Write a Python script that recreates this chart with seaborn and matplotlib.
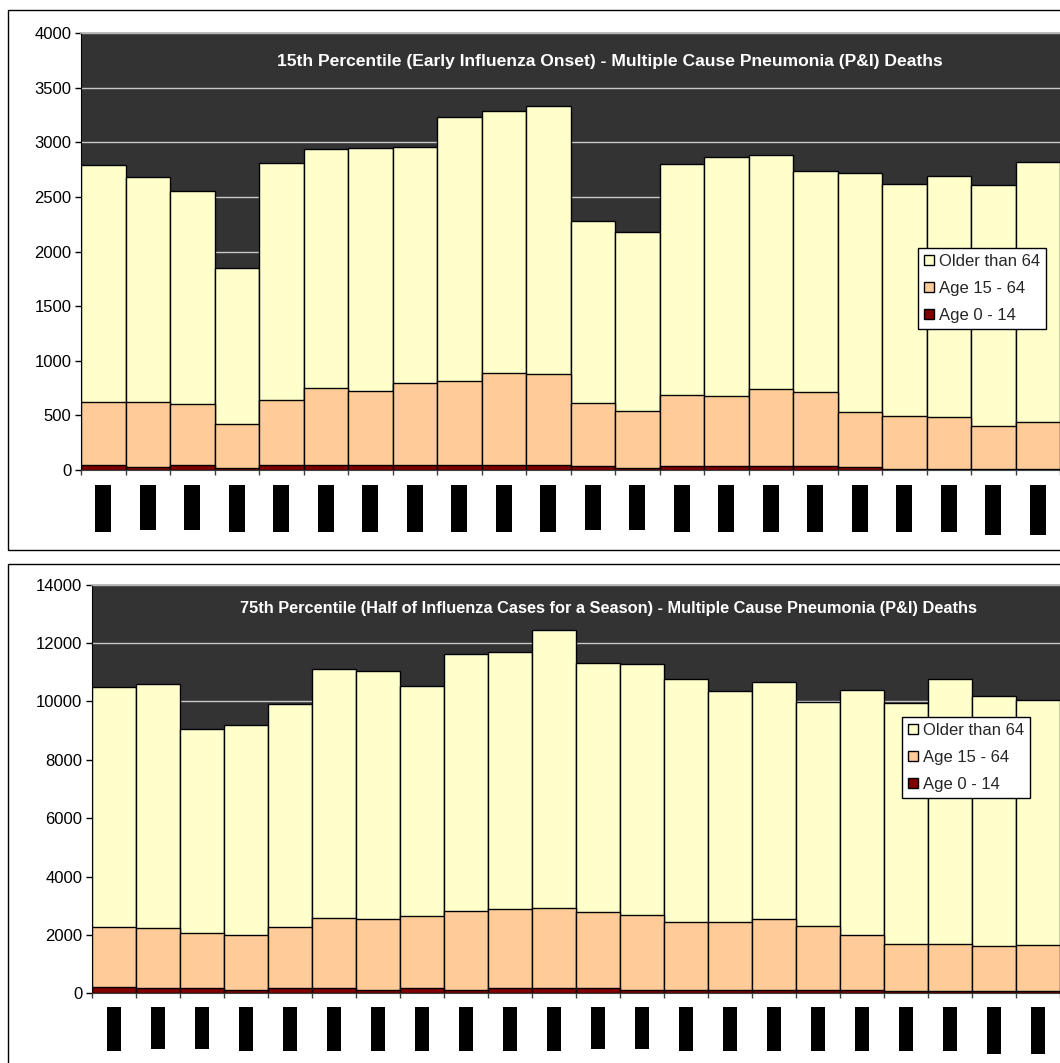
import numpy as np
import matplotlib
matplotlib.use("Agg")
import matplotlib.pyplot as plt
from matplotlib.patches import Rectangle
import seaborn as sns

# ---- data: deaths per season, stacked by age group ----
seasons = list(range(22))

early_age0_14 = [46, 30, 46, 18, 46, 46, 46, 46, 46, 46, 46, 34, 15, 34, 35, 37, 35, 25, 10, 10, 8, 8]
early_age15_64 = [580, 596, 559, 406, 595, 702, 677, 748, 772, 845, 833, 580, 528, 653, 643, 702, 677, 506, 485, 478, 395, 429]
early_over64 = [2164, 2054, 1955, 1426, 2169, 2192, 2222, 2161, 2415, 2397, 2455, 1667, 1635, 2116, 2186, 2146, 2030, 2186, 2128, 2205, 2211, 2387]

half_age0_14 = [205, 170, 170, 124, 170, 170, 124, 170, 124, 170, 170, 170, 124, 124, 124, 124, 124, 124, 80, 80, 80, 80]
half_age15_64 = [2078, 2068, 1908, 1874, 2113, 2400, 2412, 2480, 2708, 2709, 2743, 2616, 2571, 2319, 2319, 2412, 2193, 1874, 1610, 1610, 1541, 1575]
half_over64 = [8214, 8362, 6980, 7197, 7620, 8534, 8520, 7880, 8798, 8821, 9537, 8534, 8580, 8328, 7917, 8143, 7655, 8396, 8248, 9081, 8568, 8407]

group_labels = ["Older than 64", "Age 15 - 64", "Age 0 - 14"]
titles = [
    "15th Percentile (Early Influenza Onset) - Multiple Cause Pneumonia (P&I) Deaths",
    "75th Percentile (Half of Influenza Cases for a Season) - Multiple Cause Pneumonia (P&I) Deaths",
]
yticks_early = [0, 500, 1000, 1500, 2000, 2500, 3000, 3500, 4000]
yticks_half = [0, 2000, 4000, 6000, 8000, 10000, 12000, 14000]

# category label block lengths (relative: 0 short, 1 normal, 2 long)
label_kind = [1, 0, 0, 1, 1, 1, 1, 1, 1, 1, 1, 0, 0, 1, 1, 1, 1, 1, 1, 1, 2, 2]

# ---- style ----
sns.set_style("white")
plt.rcParams["font.family"] = ["Liberation Sans", "DejaVu Sans"]

C_OLD = "#FFFFCC"
C_MID = "#FFCC99"
C_YOUNG = "#800000"
C_BG = "#333333"

W, H = 1060, 1063
fig = plt.figure(figsize=(W / 100, H / 100), dpi=100)


def px_rect(left, top, right, bottom):
    return [left / W, 1 - bottom / H, (right - left) / W, (bottom - top) / H]


# chart-area frames
for top, bottom in [(10, 550), (563.5, 1080)]:
    fig.add_artist(Rectangle((8 / W, 1 - bottom / H), (1075 - 8) / W, (bottom - top) / H,
                             transform=fig.transFigure, fill=False,
                             edgecolor="black", linewidth=1.0))


def draw_panel(ax, young, mid, old, yticks, title, title_size, slot_px, title_xy,
               label_gap, label_lens, label_w, legend_xy):
    young = np.asarray(young)
    mid = np.asarray(mid)
    old = np.asarray(old)
    ax.set_facecolor(C_BG)
    layers = [(young + mid + old, C_OLD, group_labels[0]),
              (young + mid, C_MID, group_labels[1]),
              (young, C_YOUNG, group_labels[2])]
    for vals, col, lab in layers:
        sns.barplot(x=seasons, y=vals, color=col, saturation=1, width=1.0,
                    edgecolor="black", linewidth=1.0, ax=ax, label=lab,
                    errorbar=None)
    n = len(seasons)
    ax_left_px = ax.get_position().x0 * W
    ax.set_xlim(-0.5, -0.5 + (W - ax_left_px) / slot_px)
    ax.set_ylim(yticks[0], yticks[-1])
    ax.set_yticks(yticks)
    ax.set_yticklabels([str(t) for t in yticks], fontsize=12)
    ax.set_xticks(np.arange(n + 1) - 0.5)
    ax.set_xticklabels([])
    ax.set_xlabel("")
    ax.set_ylabel("")
    ax.tick_params(axis="y", direction="out", length=4, width=1, color="black",
                   left=True, pad=3, labelcolor="black")
    ax.tick_params(axis="x", direction="out", length=3.5, width=1, color="#404040",
                   bottom=True)
    ax.set_axisbelow(True)
    ax.yaxis.grid(True, color="#c8c8c8", linewidth=1.0)
    ax.xaxis.grid(False)
    ax.spines["right"].set_visible(False)
    ax.spines["top"].set_color("#b0b0b0")
    ax.spines["top"].set_linewidth(1.2)
    ax.spines["left"].set_color("black")
    ax.spines["bottom"].set_color("#404040")
    for s in ax.spines.values():
        s.set_zorder(5)

    # title inside the plot area
    fig.text(title_xy[0] / W, 1 - title_xy[1] / H, title, color="white",
             fontsize=title_size, fontweight="bold", ha="center", va="baseline")

    # category label blocks below the axis
    ax_h_px = ax.get_position().height * H
    w = label_w / slot_px
    for i, k in enumerate(label_kind):
        L = label_lens[k]
        ax.add_patch(Rectangle((i - w / 2, -(label_gap + L) / ax_h_px), w, L / ax_h_px,
                               transform=ax.get_xaxis_transform(), clip_on=False,
                               facecolor="black", edgecolor="none"))

    handles, labels = ax.get_legend_handles_labels()
    leg = ax.legend(handles, labels, loc="upper left",
                    bbox_to_anchor=(legend_xy[0] / W, 1 - legend_xy[1] / H),
                    bbox_transform=fig.transFigure, fontsize=12,
                    frameon=True, fancybox=False, framealpha=1,
                    edgecolor="black", facecolor="white",
                    handlelength=0.6, handleheight=0.6, handletextpad=0.3,
                    labelspacing=0.72, borderpad=0.35, borderaxespad=0)
    leg.get_frame().set_linewidth(1.0)


ax1 = fig.add_axes(px_rect(81, 33.3, W, 470))
draw_panel(ax1, early_age0_14, early_age15_64, early_over64, yticks_early, titles[0], 12.6,
           44.8, (610, 66), 15, {0: 45, 1: 47, 2: 50}, 16, (918, 248))

ax2 = fig.add_axes(px_rect(92, 584.7, W, 993.3))
draw_panel(ax2, half_age0_14, half_age15_64, half_over64, yticks_half, titles[1], 11.8,
           44.4, (609, 613.5), 13.7, {0: 42, 1: 44, 2: 47}, 15, (902, 717))

fig.savefig("out.png", dpi=100)
